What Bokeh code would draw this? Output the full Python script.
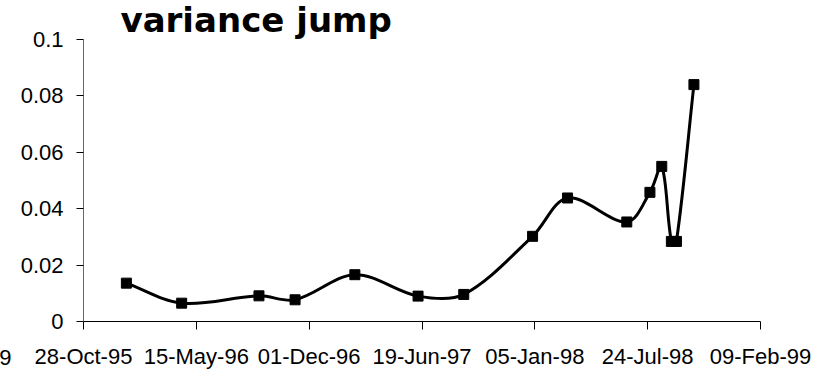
import numpy as np
from bokeh.plotting import figure
from bokeh.models import FixedTicker, DatetimeTickFormatter, Label, Range1d, Title
from bokeh.embed import file_html
from bokeh.resources import INLINE

# Observation dates and the estimated variance jump at each
dates = ["1996-01-12", "1996-04-19", "1996-09-03", "1996-11-06", "1997-02-20",
         "1997-06-12", "1997-09-01", "1998-01-01", "1998-03-04", "1998-06-17",
         "1998-07-28", "1998-08-18", "1998-09-04", "1998-09-13", "1998-10-14"]
variance = [0.0136, 0.0065, 0.0091, 0.0077, 0.0166,
            0.0090, 0.0096, 0.0302, 0.0438, 0.0353,
            0.0458, 0.0550, 0.0284, 0.0284, 0.0840]

# Axis ticks (every 200 days on x)
x_tick_dates = ["1995-10-28", "1996-05-15", "1996-12-01", "1997-06-19",
                "1998-01-05", "1998-07-24", "1999-02-09"]
y_ticks = [0, 0.02, 0.04, 0.06, 0.08, 0.1]
y_tick_labels = ["0", "0.02", "0.04", "0.06", "0.08", "0.1"]

title_text = "variance jump"

W, H = 829, 371
LEFT, RIGHT, TOP, BOTTOM = 83, 69, 39, 50
FRAME_W = W - LEFT - RIGHT
FRAME_H = H - TOP - BOTTOM


def to_ms(ds):
    return np.array(ds, dtype="datetime64[ms]").astype("int64").astype(float)


x = to_ms(dates)
y = np.array(variance, dtype=float)
x_ticks = to_ms(x_tick_dates)
x_start, x_end = x_ticks[0], x_ticks[-1]
y_start, y_end = y_ticks[0], y_ticks[-1]

# Smoothed line: cubic Bezier segments whose tangents follow the neighbouring
# points, scaled by segment lengths measured on screen.
sx = FRAME_W / (x_end - x_start)
sy = FRAME_H / (y_end - y_start)
px, py = (x - x_start) * sx, (y - y_start) * sy
n = len(x)


def dist(i, j):
    return float(np.hypot(px[j] - px[i], py[j] - py[i]))


x0, y0, x1, y1, cx0, cy0, cx1, cy1 = ([] for _ in range(8))
for i in range(n - 1):
    a, b, c, d = max(i - 1, 0), i, i + 1, min(i + 2, n - 1)
    dab, dbc, dcd = dist(a, b), dist(b, c), dist(c, d)
    f1 = dbc / (dab + dbc) / 3 if dab + dbc > 0 else 0
    f2 = dbc / (dbc + dcd) / 3 if dbc + dcd > 0 else 0
    x0.append(x[b]); y0.append(y[b])
    x1.append(x[c]); y1.append(y[c])
    cx0.append(x[b] + (x[c] - x[a]) * f1); cy0.append(y[b] + (y[c] - y[a]) * f1)
    cx1.append(x[c] - (x[d] - x[b]) * f2); cy1.append(y[c] - (y[d] - y[b]) * f2)

p = figure(width=W, height=H, x_axis_type="datetime",
           x_range=Range1d(x_start, x_end), y_range=Range1d(y_start, y_end),
           min_border_left=LEFT, min_border_right=RIGHT,
           min_border_top=TOP, min_border_bottom=BOTTOM,
           toolbar_location=None, output_backend="svg")
p.outline_line_color = None
p.xgrid.visible = False
p.ygrid.visible = False
p.background_fill_color = "white"
p.border_fill_color = "white"

p.title = Title(text=title_text, align="left", offset=37, standoff=-4,
                vertical_align="top",
                text_font="DejaVu Sans", text_font_style="bold",
                text_font_size="34px", text_color="black")

p.bezier(x0=x0, y0=y0, x1=x1, y1=y1, cx0=cx0, cy0=cy0, cx1=cx1, cy1=cy1,
         line_color="black", line_width=3)
p.scatter(x, y, marker="square", size=10, fill_color="black", line_color="black")

fmt = "%d-%b-%y"
p.xaxis.ticker = FixedTicker(ticks=list(x_ticks))
p.xaxis.formatter = DatetimeTickFormatter(
    microseconds=fmt, milliseconds=fmt, seconds=fmt, minsec=fmt, minutes=fmt,
    hourmin=fmt, hours=fmt, days=fmt, months=fmt, years=fmt)
p.yaxis.ticker = FixedTicker(ticks=y_ticks)
p.yaxis.major_label_overrides = dict(zip(y_ticks, y_tick_labels))

for ax in (p.xaxis, p.yaxis):
    ax.major_label_text_font = "Liberation Sans"
    ax.major_label_text_font_size = "22px"
    ax.major_label_text_color = "black"
    ax.major_tick_in = 0
    ax.minor_tick_line_color = None
    ax.major_tick_line_color = "black"
    ax.major_tick_line_width = 1

p.xaxis.axis_line_color = "black"
p.xaxis.major_tick_out = 8
p.xaxis.major_label_standoff = 14
p.yaxis.axis_line_color = "#6a6a6a"
p.yaxis.major_tick_out = 7
p.yaxis.major_label_standoff = 13

# tail of a neighbouring date label cut at the left edge
p.add_layout(Label(x=11, y=357, x_units="canvas", y_units="canvas",
                   text="9", text_font="Liberation Sans", text_font_size="22px",
                   text_color="black", text_align="right",
                   text_baseline="alphabetic"), "left")

open("out.html", "w").write(file_html(p, INLINE))
